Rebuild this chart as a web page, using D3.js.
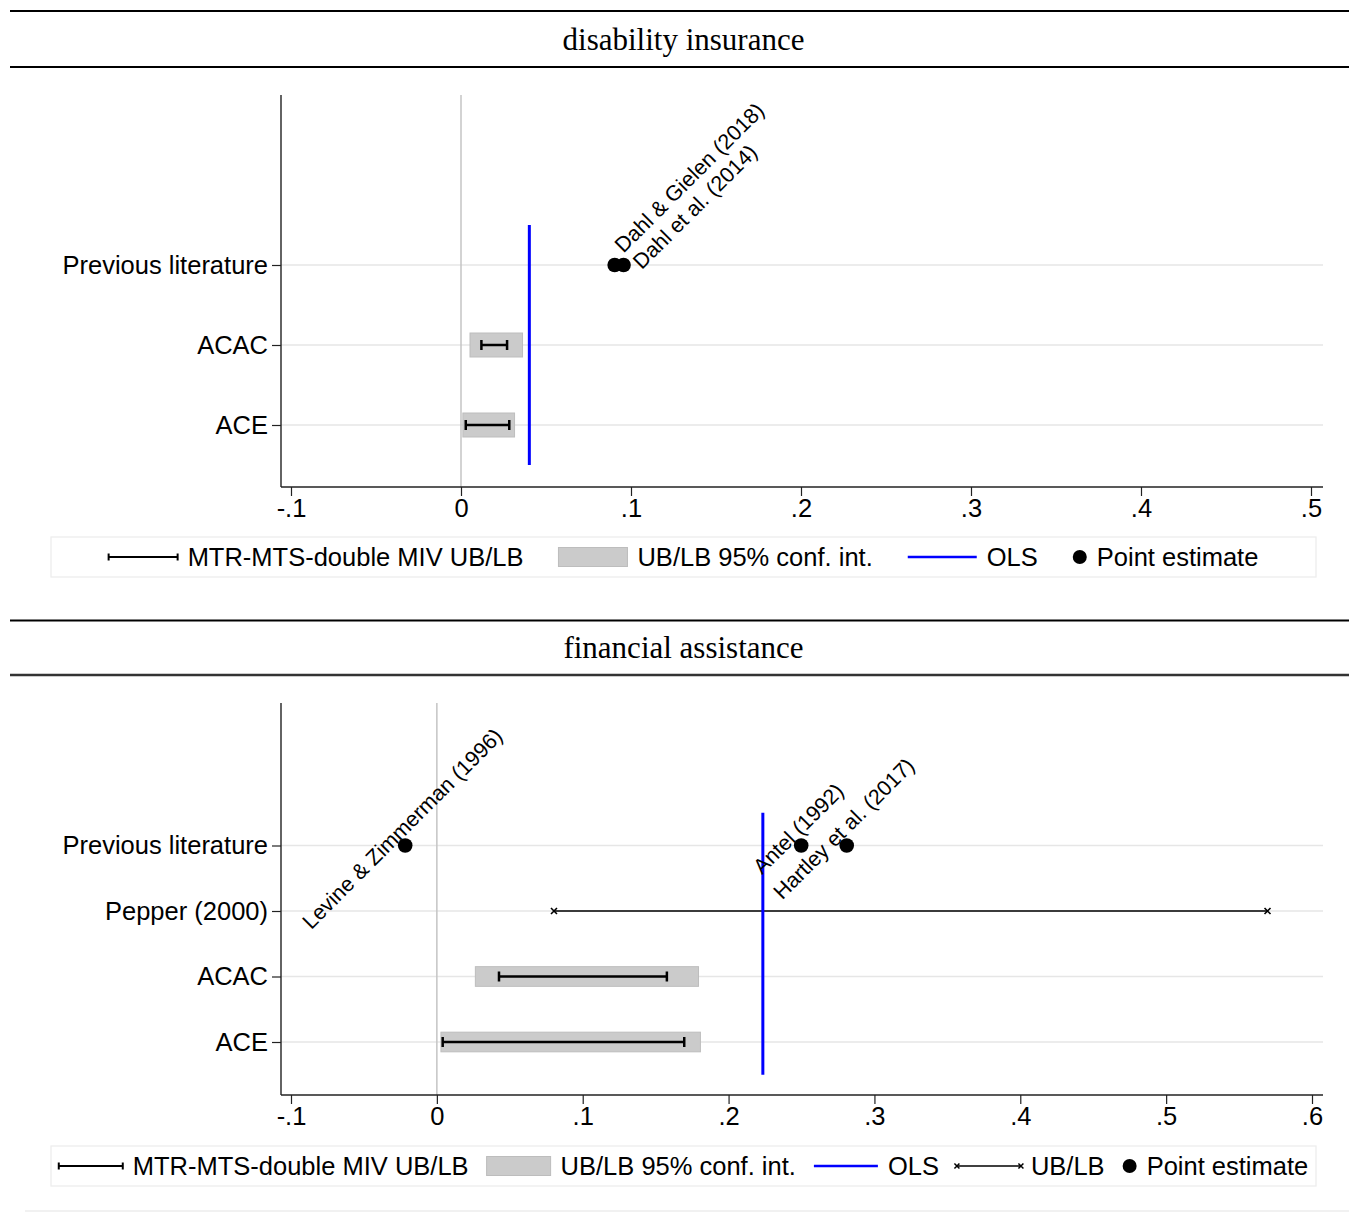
<!DOCTYPE html>
<html><head><meta charset="utf-8">
<script src="https://cdn.jsdelivr.net/npm/d3@7"></script>
<style>
body{margin:0;background:#fff}
svg text{font-family:"Liberation Sans",Arial,Helvetica,sans-serif;fill:#000}
</style>
</head><body>
<svg id="c" width="1349" height="1220"></svg>
<script>
// ---------------- DATA ----------------
// Panel 1: disability insurance
const diTitle = "disability insurance";
const diCategories = ["ACE", "ACAC", "Previous literature"]; // bottom to top
const diBoundRows = ["ACE", "ACAC"];
const diMivLB = [0.0028, 0.0120];
const diMivUB = [0.0284, 0.0271];
const diCiLB = [0.0011, 0.0053];
const diCiUB = [0.0315, 0.0362];
const diOLS = 0.0402;
const diStudies = ["Dahl & Gielen (2018)", "Dahl et al. (2014)"];
const diStudyEst = [0.0904, 0.0956];
const diStudyLabelClock = [1, 3];
const diTicks = [-0.1, 0, 0.1, 0.2, 0.3, 0.4, 0.5];
const diTickLabels = ["-.1", "0", ".1", ".2", ".3", ".4", ".5"];
const diLegend = [
  {key: "miv", label: "MTR-MTS-double MIV UB/LB"},
  {key: "ci", label: "UB/LB 95% conf. int."},
  {key: "ols", label: "OLS"},
  {key: "pt", label: "Point estimate"}
];

// Panel 2: financial assistance
const faTitle = "financial assistance";
const faCategories = ["ACE", "ACAC", "Pepper (2000)", "Previous literature"];
const faBoundRows = ["ACE", "ACAC"];
const faMivLB = [0.0040, 0.0426];
const faMivUB = [0.1696, 0.1577];
const faCiLB = [0.0028, 0.0264];
const faCiUB = [0.1807, 0.1794];
const faPepperRow = "Pepper (2000)";
const faPepperLB = 0.0803;
const faPepperUB = 0.5695;
const faOLS = 0.2235;
const faStudies = ["Levine & Zimmerman (1996)", "Antel (1992)", "Hartley et al. (2017)"];
const faStudyEst = [-0.0217, 0.2498, 0.2810];
const faStudyLabelClock = [12, 12, 12];
const faTicks = [-0.1, 0, 0.1, 0.2, 0.3, 0.4, 0.5, 0.6];
const faTickLabels = ["-.1", "0", ".1", ".2", ".3", ".4", ".5", ".6"];
const faLegend = [
  {key: "miv", label: "MTR-MTS-double MIV UB/LB"},
  {key: "ci", label: "UB/LB 95% conf. int."},
  {key: "ols", label: "OLS"},
  {key: "ub", label: "UB/LB"},
  {key: "pt", label: "Point estimate"}
];

// ---------------- LAYOUT ----------------
const W = 1349, H = 1220;
const FS = 25.5;      // axis / legend font size
const LFS = 21.5;     // marker label font size
const svg = d3.select("#c");
svg.append("rect").attr("width", W).attr("height", H).attr("fill", "#fff");

function drawPanel(cfg, d) {
  const g = svg.append("g");
  // header lines + title
  g.append("line").attr("x1", 10).attr("x2", W).attr("y1", cfg.line1).attr("y2", cfg.line1)
    .attr("stroke", "#000").attr("stroke-width", 2);
  g.append("line").attr("x1", 10).attr("x2", W).attr("y1", cfg.line2).attr("y2", cfg.line2)
    .attr("stroke", cfg.line2Color).attr("stroke-width", cfg.line2Width);
  g.append("text").attr("x", 683.5).attr("y", (cfg.line1 + cfg.line2) / 2 + 10.5)
    .attr("text-anchor", "middle").style("font-family", '"Liberation Serif","Times New Roman",serif')
    .style("font-size", "31px").text(d.title);

  const x = d3.scaleLinear().domain([d.ticks[0], d.ticks[d.ticks.length - 1]]).range([291, cfg.xMaxPx]);
  const n = d.categories.length;
  const y = d3.scaleLinear().domain([1, 2]).range([cfg.y1, cfg.y1 - cfg.step]);
  const yOf = name => y(d.categories.indexOf(name) + 1);
  const L = 281, R = 1323, T = cfg.top, B = cfg.bottom;

  // gridlines
  g.append("g").selectAll("line").data(d.categories).join("line")
    .attr("x1", L).attr("x2", R).attr("y1", c => yOf(c)).attr("y2", c => yOf(c))
    .attr("stroke", "#e6e6e6").attr("stroke-width", 1.5);
  // zero line
  g.append("line").attr("x1", x(0)).attr("x2", x(0)).attr("y1", T).attr("y2", B)
    .attr("stroke", "#c4c4c4").attr("stroke-width", 1.5);

  const boxH = 0.3 * cfg.step;
  // CI boxes
  g.append("g").selectAll("rect").data(d.boundRows).join("rect")
    .attr("x", (c, i) => x(d.ciLB[i])).attr("width", (c, i) => x(d.ciUB[i]) - x(d.ciLB[i]))
    .attr("y", c => yOf(c) - boxH / 2).attr("height", boxH)
    .attr("fill", "#cbcbcb").attr("stroke", "#bdbdbd").attr("stroke-width", 1);
  // MIV bounds bars
  const mv = g.append("g").attr("stroke", "#000").attr("stroke-width", 2.5);
  d.boundRows.forEach((c, i) => {
    const yy = yOf(c), a = x(d.mivLB[i]), b = x(d.mivUB[i]);
    mv.append("line").attr("x1", a).attr("x2", b).attr("y1", yy).attr("y2", yy);
    mv.append("line").attr("x1", a).attr("x2", a).attr("y1", yy - 5).attr("y2", yy + 5);
    mv.append("line").attr("x1", b).attr("x2", b).attr("y1", yy - 5).attr("y2", yy + 5);
  });
  // Pepper UB/LB line
  if (d.pepperRow) {
    const yy = yOf(d.pepperRow), a = x(d.pepperLB), b = x(d.pepperUB);
    const pg = g.append("g").attr("stroke", "#000");
    pg.append("line").attr("x1", a).attr("x2", b).attr("y1", yy).attr("y2", yy).attr("stroke-width", 1.6);
    [a, b].forEach(px => {
      pg.append("path").attr("d", `M${px-3},${yy-3}L${px+3},${yy+3}M${px-3},${yy+3}L${px+3},${yy-3}`)
        .attr("stroke-width", 1.6);
    });
  }
  // OLS line
  g.append("line").attr("x1", x(d.ols)).attr("x2", x(d.ols))
    .attr("y1", y(n + 0.5)).attr("y2", y(0.5))
    .attr("stroke", "#0000ff").attr("stroke-width", 3);
  // points
  const py = y(n);
  g.append("g").selectAll("circle").data(d.studyEst).join("circle")
    .attr("cx", v => x(v)).attr("cy", py).attr("r", 7.3).attr("fill", "#000");
  // labels
  const gap = 19;
  d.studies.forEach((s, i) => {
    const clk = d.labelClock[i];
    const ang = clk * 30 * Math.PI / 180;
    let ox = gap * Math.sin(ang), oy = -gap * Math.cos(ang);
    let anchor = "start";
    if (clk === 12 || clk === 6) { anchor = "middle"; ox -= 3; oy += 2; }
    else if (clk > 6) anchor = "end";
    else { ox -= 6; }
    g.append("text")
      .attr("transform", `translate(${x(d.studyEst[i]) + ox},${py + oy}) rotate(-45)`)
      .attr("text-anchor", anchor).attr("dy", "0.35em")
      .style("font-size", LFS + "px").text(s);
  });

  // axes lines
  g.append("line").attr("x1", L).attr("x2", L).attr("y1", T).attr("y2", B)
    .attr("stroke", "#222").attr("stroke-width", 1.4);
  g.append("line").attr("x1", L).attr("x2", R).attr("y1", B).attr("y2", B)
    .attr("stroke", "#222").attr("stroke-width", 1.4);

  const xAxis = d3.axisBottom(x).tickValues(d.ticks)
    .tickFormat((v, i) => d.tickLabels[i]).tickSize(9).tickSizeOuter(0).tickPadding(3);
  const xa = g.append("g").attr("transform", `translate(0,${B})`).call(xAxis);
  xa.select(".domain").remove();
  xa.selectAll(".tick line").attr("stroke", "#222").attr("stroke-width", 1.2);
  xa.selectAll(".tick text").style("font-size", FS + "px").style("font-family", '"Liberation Sans",Arial,sans-serif').attr("fill", "#000");

  const yAxis = d3.axisLeft(y).tickValues(d3.range(1, n + 1))
    .tickFormat(v => d.categories[v - 1]).tickSize(9).tickSizeOuter(0).tickPadding(4);
  const ya = g.append("g").attr("transform", `translate(${L},0)`).call(yAxis);
  ya.select(".domain").remove();
  ya.selectAll(".tick line").attr("stroke", "#222").attr("stroke-width", 1.2);
  ya.selectAll(".tick text").style("font-size", FS + "px").style("font-family", '"Liberation Sans",Arial,sans-serif').attr("fill", "#000");

  // legend
  const lg = g.append("g");
  lg.append("rect").attr("x", 51).attr("y", cfg.legTop).attr("width", 1265).attr("height", 40)
    .attr("fill", "#fff").attr("stroke", "#ececec").attr("stroke-width", 1.2);
  const ly = cfg.legTop + 20;
  const items = [];
  let cx = 0;
  d.legend.forEach((it, i) => {
    const kw = it.key === "pt" ? 14 : cfg.keyW;
    const ig = lg.append("g");
    const k = ig.append("g");
    if (it.key === "miv") {
      k.append("line").attr("x1", 0).attr("x2", kw).attr("y1", 0).attr("y2", 0).attr("stroke", "#000").attr("stroke-width", 2.2);
      k.append("line").attr("x1", 0).attr("x2", 0).attr("y1", -3.5).attr("y2", 3.5).attr("stroke", "#000").attr("stroke-width", 2);
      k.append("line").attr("x1", kw).attr("x2", kw).attr("y1", -3.5).attr("y2", 3.5).attr("stroke", "#000").attr("stroke-width", 2);
    } else if (it.key === "ci") {
      k.append("rect").attr("x", 0).attr("y", -9.5).attr("width", kw).attr("height", 19)
        .attr("fill", "#cbcbcb").attr("stroke", "#bdbdbd").attr("stroke-width", 1);
    } else if (it.key === "ols") {
      k.append("line").attr("x1", 0).attr("x2", kw).attr("y1", 0).attr("y2", 0).attr("stroke", "#0000ff").attr("stroke-width", 2.5);
    } else if (it.key === "ub") {
      k.append("line").attr("x1", 0).attr("x2", kw).attr("y1", 0).attr("y2", 0).attr("stroke", "#000").attr("stroke-width", 1.5);
      [0, kw].forEach(px => k.append("path").attr("d", `M${px-2.5},-2.5L${px+2.5},2.5M${px-2.5},2.5L${px+2.5},-2.5`).attr("stroke", "#000").attr("stroke-width", 1.5));
    } else if (it.key === "pt") {
      k.append("circle").attr("cx", 7).attr("cy", 0).attr("r", 7).attr("fill", "#000");
    }
    const t = ig.append("text").attr("x", kw + 10).attr("y", 0).attr("dy", "0.35em")
      .style("font-size", FS + "px").text(it.label);
    const tw = t.node().getComputedTextLength();
    items.push({g: ig, x: cx});
    cx += kw + 10 + tw + (i < d.legend.length - 1 ? cfg.itemGap : 0);
  });
  const start = 683.5 - cx / 2;
  items.forEach(o => o.g.attr("transform", `translate(${start + o.x},${ly})`));
}

drawPanel(
  {line1: 11, line2: 67, line2Color: "#000", line2Width: 2, top: 95, bottom: 487,
   xMaxPx: 1311, y1: 425, step: 80, legTop: 537, keyW: 69, itemGap: 35},
  {title: diTitle, categories: diCategories, boundRows: diBoundRows,
   mivLB: diMivLB, mivUB: diMivUB, ciLB: diCiLB, ciUB: diCiUB, ols: diOLS,
   studies: diStudies, studyEst: diStudyEst, labelClock: diStudyLabelClock,
   ticks: diTicks, tickLabels: diTickLabels, legend: diLegend}
);
drawPanel(
  {line1: 620.5, line2: 675, line2Color: "#333", line2Width: 2.4, top: 703, bottom: 1095,
   xMaxPx: 1312, y1: 1042, step: 65.5, legTop: 1146, keyW: 64, itemGap: 18},
  {title: faTitle, categories: faCategories, boundRows: faBoundRows,
   mivLB: faMivLB, mivUB: faMivUB, ciLB: faCiLB, ciUB: faCiUB, ols: faOLS,
   pepperRow: faPepperRow, pepperLB: faPepperLB, pepperUB: faPepperUB,
   studies: faStudies, studyEst: faStudyEst, labelClock: faStudyLabelClock,
   ticks: faTicks, tickLabels: faTickLabels, legend: faLegend}
);
// faint bottom rule
svg.append("line").attr("x1", 25).attr("x2", W).attr("y1", 1211).attr("y2", 1211)
  .attr("stroke", "#ececec").attr("stroke-width", 1.5);
</script>
</body></html>
